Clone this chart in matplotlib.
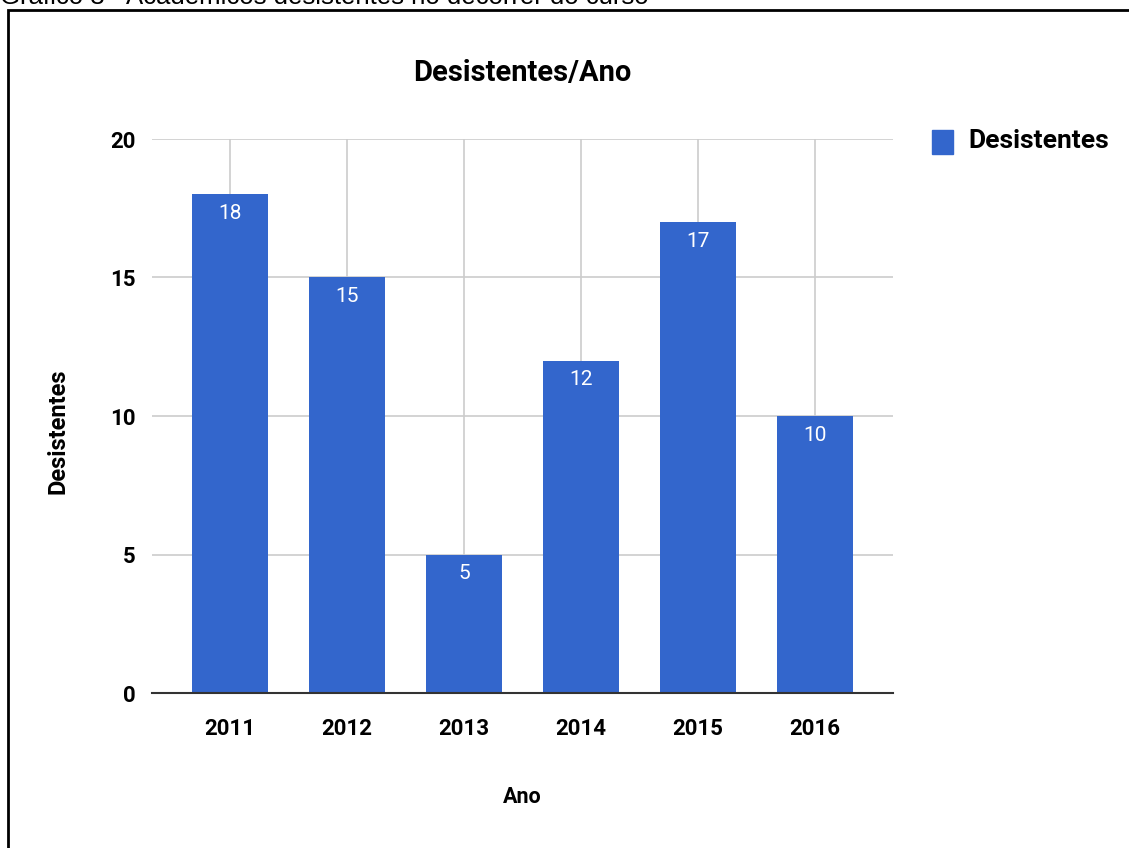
import matplotlib.pyplot as plt
from matplotlib.patches import Rectangle

anos = ["2011", "2012", "2013", "2014", "2015", "2016"]
desistentes = [18, 15, 5, 12, 17, 10]
y_ticks = [0, 5, 10, 15, 20]

cor = "#3366cc"
plt.rcParams['font.family'] = ['Roboto', 'DejaVu Sans']

W, H = 1129, 848
fig = plt.figure(figsize=(W / 100, H / 100), dpi=100)

# eixo em pixels: x 152..893, y 139..693
ax = fig.add_axes([152 / W, 1 - 693 / H, (893 - 152) / W, (693 - 139) / H])

x = list(range(len(anos)))
ax.bar(x, desistentes, width=0.65, color=cor, zorder=3)
for xi, v in zip(x, desistentes):
    ax.annotate(str(v), (xi, v), xytext=(0, -7), textcoords="offset points",
                ha="center", va="top", color="white", fontsize=15, zorder=4)

ax.set_xlim(-0.667, len(anos) - 1 + 0.667)
ax.set_ylim(0, 20)
ax.set_yticks(y_ticks)
ax.set_xticks(x)
ax.set_xticklabels(anos)
ax.tick_params(length=0, labelsize=16)
for lab in ax.get_xticklabels() + ax.get_yticklabels():
    lab.set_fontweight("bold")
ax.tick_params(axis="y", pad=12)
ax.tick_params(axis="x", pad=18)

ax.grid(True, color="#cccccc", linewidth=1.2, zorder=0)
for s in ["top", "right", "left"]:
    ax.spines[s].set_visible(False)
ax.spines["bottom"].set_color("#333333")
ax.spines["bottom"].set_linewidth(1.5)
ax.spines["bottom"].set_zorder(5)

fig.text(522 / W, 1 - 73 / H, "Desistentes/Ano", ha="center", va="center",
         fontsize=21, fontweight="bold")
fig.text(58 / W, 1 - 431 / H, "Desistentes", ha="center", va="center",
         rotation=90, fontsize=17, fontweight="bold")
fig.text(522 / W, 1 - 797 / H, "Ano", ha="center", va="center",
         fontsize=15.5, fontweight="bold")

# legenda
fig.patches.append(Rectangle((932 / W, 1 - 154 / H), 21 / W, 24 / H,
                             transform=fig.transFigure, color=cor))
fig.text(968 / W, 1 - 141 / H, "Desistentes", ha="left", va="center",
         fontsize=19, fontweight="bold")

# moldura e legenda cortada no topo
fig.patches.append(Rectangle((8 / W, -0.1), 1.1, 1 - 10 / H + 0.1,
                             transform=fig.transFigure, fill=False,
                             edgecolor="black", linewidth=2))
fig.text(0, 1 - 4 / H, "Gráfico 3 - Acadêmicos desistentes no decorrer do curso",
         ha="left", va="baseline", fontsize=18.5,
         family=["Liberation Sans", "DejaVu Sans"])

fig.savefig("out.png", dpi=100)
